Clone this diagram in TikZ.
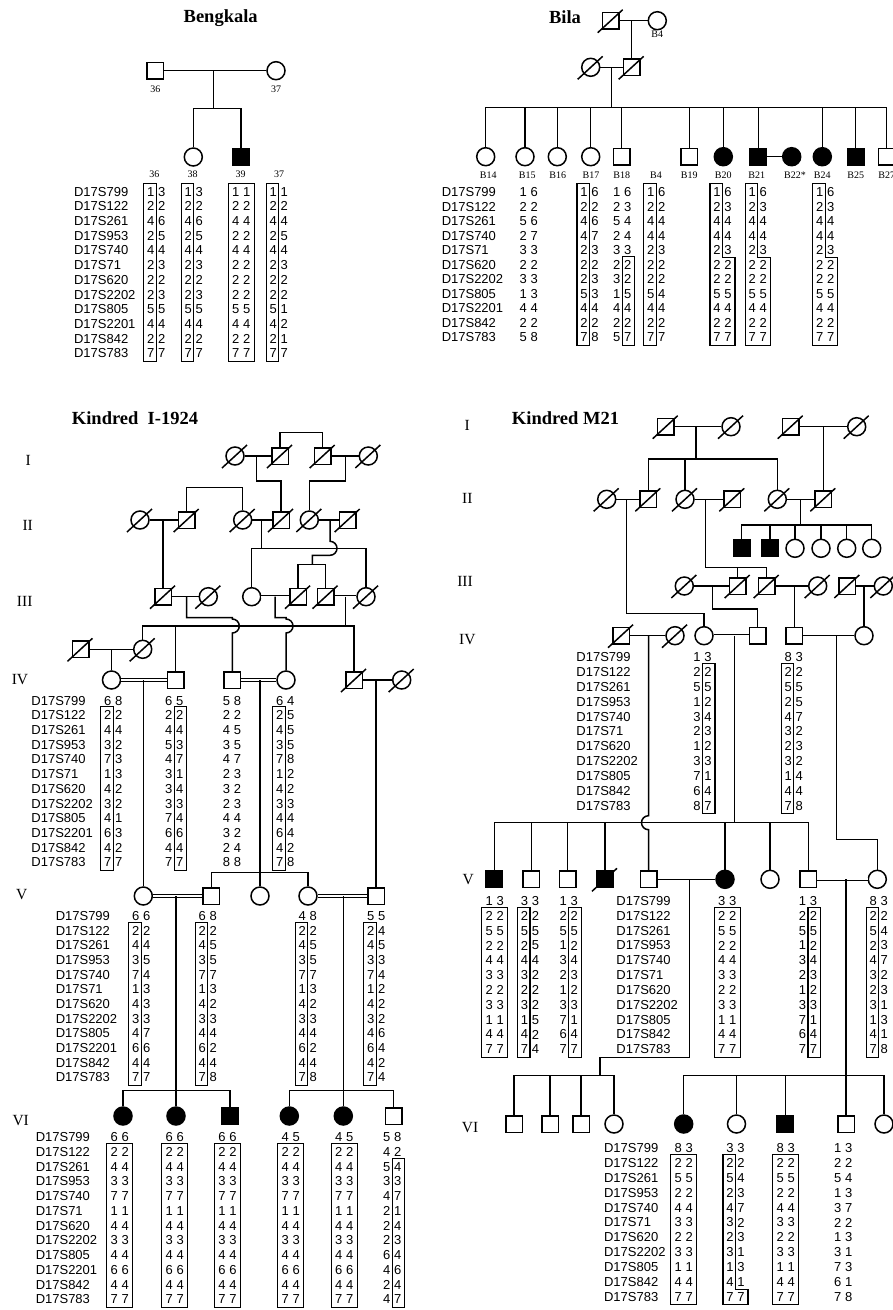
\documentclass[tikz,border=0pt]{standalone}
\usepackage{fontspec}
\setmainfont{Liberation Serif}
\setsansfont{Liberation Sans}

\newcommand{\allelefont}{\sffamily\fontsize{13}{13}\selectfont}
\newcommand{\titlefont}{\bfseries\fontsize{18.5}{18.5}\selectfont}
\newcommand{\genfont}{\fontsize{15.5}{15.5}\selectfont}
\newcommand{\idfont}{\fontsize{10}{10}\selectfont}

% marker sets
\def\mkA{D17S799,D17S122,D17S261,D17S953,D17S740,D17S71,D17S620,D17S2202,D17S805,D17S2201,D17S842,D17S783}
\def\mkB{D17S799,D17S122,D17S261,D17S740,D17S71,D17S620,D17S2202,D17S805,D17S2201,D17S842,D17S783}
\def\mkC{D17S799,D17S122,D17S261,D17S953,D17S740,D17S71,D17S620,D17S2202,D17S805,D17S842,D17S783}
\def\rowstep{14.7}

% one haplotype column: name, x, y of first row, pairs
\newcommand{\alleles}[4]{%
  \foreach \p/\q [count=\i from 0] in {#4} {
    \node[allele] (#1a\i) at ({#2-5.5},{#3+\i*\rowstep}) {\p};
    \node[allele] (#1b\i) at ({#2+5.5},{#3+\i*\rowstep}) {\q};
  }}
\newcommand{\markers}[4]{%
  \foreach \m [count=\i from 0] in #4 {
    \node[marker] (#1\i) at (#2,{#3+\i*\rowstep}) {\m};
  }}
% boxes: x, y of first row, first boxed row, last boxed row
\newcommand{\hapL}[4]{\draw[hapbox] ({#1-12.5},{#2+#3*\rowstep-8.5}) rectangle ({#1},{#2+#4*\rowstep+8});}
\newcommand{\hapR}[4]{\draw[hapbox] ({#1},{#2+#3*\rowstep-8.5}) rectangle ({#1+12.5},{#2+#4*\rowstep+8});}
\newcommand{\hapB}[4]{\draw[hapbox] ({#1-13},{#2+#3*\rowstep-8.5}) rectangle ({#1+13},{#2+#4*\rowstep+8});}
\newcommand{\hapS}[5]{\draw[hapbox] ({#1-12.5},{#2+#3*\rowstep-8.5}) -- ({#1},{#2+#3*\rowstep-8.5})
  -- ({#1},{#2+(#4-0.5)*\rowstep}) -- ({#1+12.5},{#2+(#4-0.5)*\rowstep})
  -- ({#1+12.5},{#2+#5*\rowstep+8}) -- ({#1-12.5},{#2+#5*\rowstep+8}) -- cycle;}

\begin{document}
\begin{tikzpicture}[x=1pt, y=-1pt, line width=1.5pt,
  male/.style = {draw, rectangle, minimum size=16.5pt, inner sep=0pt, fill=white},
  female/.style = {draw, circle, minimum size=18pt, inner sep=0pt, fill=white},
  ill/.style = {fill=black},
  wed/.style = {double, line width=0.9pt, double distance=1.7pt},
  allele/.style = {font=\allelefont, inner sep=0pt},
  marker/.style = {font=\allelefont, inner sep=0pt, anchor=west},
  hapbox/.style = {line width=1.1pt},
  title/.style = {font=\titlefont, inner sep=0pt},
  gen/.style = {font=\genfont, inner sep=0pt},
  idlabel/.style = {font=\idfont, inner sep=0pt},
  ]
\useasboundingbox (0,0) rectangle (893,1310);

% ---------------- Bengkala ----------------
\node[title] (tBe) at (220.7,18.3) {Bengkala};
\node[male] (b36) at (155.3,70.7) {};
\node[female] (b37) at (276,70.7) {};
\node[female] (b38) at (193.3,157) {};
\node[male, ill] (b39) at (241,157) {};
\node[idlabel] (l36) at (155.3,89) {36};
\node[idlabel] (l37) at (276,89) {37};
\coordinate (bs) at (213.3,108.3);
\draw (b36) -- (b37);
\draw (bs |- b36) -- (bs);
\draw (b38) |- (bs) -| (b39);
\foreach \t/\x [count=\k] in {36/154.3,38/192.7,39/240.7,37/279}
  \node[idlabel] (cb\k) at (\x,174.3) {\t};
\def\rowstep{14.7}
\markers{mkb}{73.3}{191.7}{\mkA}
\alleles{h36}{156.2}{191.7}{1/3,2/2,4/6,2/5,4/4,2/3,2/2,2/3,5/5,4/4,2/2,7/7}
\hapL{156.2}{191.7}{0}{11}
\alleles{h38}{193.7}{191.7}{1/3,2/2,4/6,2/5,4/4,2/3,2/2,2/3,5/5,4/4,2/2,7/7}
\hapL{193.7}{191.7}{0}{11}
\alleles{h39}{241.3}{191.7}{1/1,2/2,4/4,2/2,4/4,2/2,2/2,2/2,5/5,4/4,2/2,7/7}
\hapB{241.3}{191.7}{0}{11}
\alleles{h37}{278.7}{191.7}{1/1,2/2,4/4,2/5,4/4,2/3,2/2,2/2,5/1,4/2,2/1,7/7}
\hapL{278.7}{191.7}{0}{11}

% ---------------- Bila ----------------
\node[title] (tBi) at (565,17.3) {Bila};
\node[male] (bI1) at (610.7,20.7) {};
\node[female] (bI2) at (657.3,20.7) {};
\node[idlabel] (lB4) at (657.3,34) {B4};
\node[female] (bII1) at (590.7,67.3) {};
\node[male] (bII2) at (631.7,67.3) {};
\draw (bI1) -- (bI2);
\draw (bII2 |- bI1) -- (bII2);
\draw (bII1) -- (bII2);
\foreach \n in {bI1,bII1,bII2}
  \draw (\n.center) ++(-13,12) -- ++(25,-23);
\node[female] (b14) at (485.7,156.7) {};
\node[female] (b15) at (525,156.7) {};
\node[female] (b16) at (557.3,156.7) {};
\node[female] (b17) at (590.7,156.7) {};
\node[male] (b18) at (621.7,156.7) {};
\node[male] (b19) at (689.3,156.7) {};
\node[female, ill] (b20) at (723.3,156.7) {};
\node[male, ill] (b21) at (758.3,156.7) {};
\node[female, ill] (b22) at (791.7,156.7) {};
\node[female, ill] (b24) at (822.3,156.7) {};
\node[male, ill] (b25) at (855.7,156.7) {};
\node[male] (b27) at (886.7,156.7) {};
\coordinate (bs2) at (611.7,107.3);
\draw (bs2 |- bII1) -- (bs2);
\draw (b14 |- bs2) -- (b27 |- bs2);
\foreach \n in {b14,b15,b16,b17,b18,b19,b20,b21,b24,b25,b27}
  \draw (\n) -- (\n |- bs2);
\draw (b21) -- (b22);
\foreach \t/\x [count=\k] in {B14/488.3,B15/527.3,B16/557.7,B17/591,B18/621.7,B4/656,B19/689.3,
    B20/723.3,B21/756.7,B22*/795,B24/822.3,B25/855.7,B27/886.7}
  \node[idlabel] (cl\k) at (\x,175) {\t};
\def\rowstep{14.5}
\markers{mki}{441}{192.3}{\mkB}
\alleles{hB15}{528.7}{192.3}{1/6,2/2,5/6,2/7,3/3,2/2,3/3,1/3,4/4,2/2,5/8}
\alleles{hB17}{589.5}{192.3}{1/6,2/2,4/6,4/7,2/3,2/2,2/3,5/3,4/4,2/2,7/8}
\hapL{589.5}{192.3}{0}{10}
\alleles{hB18}{622.2}{192.3}{1/6,2/3,5/4,2/4,3/3,2/2,3/2,1/5,4/4,2/2,5/7}
\hapR{622.2}{192.3}{5}{10}
\alleles{hB4}{656.3}{192.3}{1/6,2/2,4/4,4/4,2/3,2/2,2/2,5/4,4/4,2/2,7/7}
\hapL{656.3}{192.3}{0}{10}
\foreach \n/\x in {B20/722.5,B21/757.8,B24/825.3}{
  \alleles{h\n}{\x}{192.3}{1/6,2/3,4/4,4/4,2/3,2/2,2/2,5/5,4/4,2/2,7/7}
  \hapS{\x}{192.3}{0}{5}{10}
}

% ---------------- Kindred I-1924 ----------------
\node[title] (tI) at (135,417.7) {Kindred\enspace I-1924};
\node[gen] (gI1) at (28.3,460) {I};
\node[gen] (gI2) at (27.7,525) {II};
\node[gen] (gI3) at (24.7,601) {III};
\node[gen] (gI4) at (20,679.3) {IV};
\node[gen] (gI5) at (21.7,895) {V};
\node[gen] (gI6) at (20.7,1120.7) {VI};
% generation I
\node[female] (iI1) at (235,456) {};
\node[male] (iI2) at (280,456) {};
\node[male] (iI3) at (322.7,456) {};
\node[female] (iI4) at (368.3,456) {};
% generation II
\node[female] (iII1) at (140,520) {};
\node[male] (iII2) at (186.7,520) {};
\node[female] (iII3) at (242.7,520) {};
\node[male] (iII4) at (281,520) {};
\node[female] (iII5) at (309.3,520) {};
\node[male] (iII6) at (347.7,520) {};
% generation III
\node[male] (iIII1) at (163,596.7) {};
\node[female] (iIII2) at (208.3,596.7) {};
\node[female] (iIII3) at (251.7,596.7) {};
\node[male] (iIII4) at (298,596.7) {};
\node[male] (iIII5) at (325.5,596.7) {};
\node[female] (iIII6) at (366,596.7) {};
% generation IV
\node[male] (iIV0a) at (80.5,649.3) {};
\node[female] (iIV0b) at (142.7,649.3) {};
\node[female] (iIV1) at (111.5,680) {};
\node[male] (iIV2) at (175.5,680) {};
\node[male] (iIV3) at (232.3,680) {};
\node[female] (iIV4) at (286,680) {};
\node[male] (iIV5) at (354,680) {};
\node[female] (iIV6) at (401.7,680) {};
% generation V
\node[female] (iV1) at (143.3,896) {};
\node[male] (iV2) at (211.3,896) {};
\node[female] (iV3) at (260,896) {};
\node[female] (iV4) at (308,896) {};
\node[male] (iV5) at (376,896) {};
% generation VI
\node[female, ill] (iVI1) at (123,1116) {};
\node[female, ill] (iVI2) at (176,1116) {};
\node[male, ill] (iVI3) at (230,1116) {};
\node[female, ill] (iVI4) at (289.3,1116) {};
\node[female, ill] (iVI5) at (343.3,1116) {};
\node[male] (iVI6) at (393.5,1116) {};
% lines
\coordinate (iIb) at (301,432.7);
\draw (iI2) -- (iI2 |- iIb) -- (iI3 |- iIb) -- (iI3);
\draw (iI1) -- (iI2);
\draw (iI3) -- (iI4);
\coordinate (iIa) at (256.7,481);
\draw (iIa |- iI1) -- (iIa) -| (iII4);
\coordinate (iIc) at (345.7,481);
\draw (iIc |- iI3) -- (iIc) -| (iII5);
\coordinate (iIIb) at (215,487.7);
\draw (iII2) -- (iII2 |- iIIb) -- (iII3 |- iIIb) -- (iII3);
\draw (iII1) -- (iII2);
\draw (iII3) -- (iII4);
\draw (iII5) -- (iII6);
\draw (iII1 -| iIII1) -- (iIII1);
\coordinate (iIIs) at (261.7,548.3);
\draw (iIIs |- iII3) -- (iIIs);
\draw (iIII3) |- (iIIs) -| (iIII6);
\coordinate (iIIj) at (330,541.3);
\coordinate (iIIt) at (312.3,564.3);
\draw (iIIj |- iII5) -- (iIIj) arc[start angle=-90, end angle=90, radius=7] -| (iIIt);
\draw (iIII4) |- (iIIt) -| (iIII5);
\draw (iIII1) -- (iIII2);
\draw[wed] (iIII3) -- (iIII4);
\draw[wed] (iIII5) -- (iIII6);
\coordinate (iIIIa) at (186.7,617.7);
\draw (iIIIa |- iIII1) -- (iIIIa) -- (iIIIa -| iIV3) -- ++(0,1.3)
  arc[start angle=-90, end angle=90, radius=7] -- (iIV3);
\coordinate (iIIIb) at (275,617.7);
\draw (iIIIb |- iIII3) -- (iIIIb) -- (iIIIb -| iIV4) -- ++(0,1.3)
  arc[start angle=-90, end angle=90, radius=7] -- (iIV4);
\coordinate (iIIIs) at (345.7,626);
\draw (iIIIs |- iIII5) -- (iIIIs);
\draw (iIV0b) |- (iIIIs) -| (iIV5);
\draw (iIV2) -- (iIV2 |- iIIIs);
\draw (iIV0a) -- (iIV0b);
\draw (iIV1 |- iIV0a) -- (iIV1);
\draw[wed] (iIV1) -- (iIV2);
\draw[wed] (iIV3) -- (iIV4);
\draw (iIV5) -- (iIV6);
\draw (iV1 |- iIV1) -- (iV1);
\coordinate (iIVs) at (260,872.3);
\draw (iIVs |- iIV3) -- (iV3);
\draw (iV2) |- (iIVs) -| (iV4);
\draw (iV5 |- iIV5) -- (iV5);
\draw[wed] (iV1) -- (iV2);
\draw[wed] (iV4) -- (iV5);
\coordinate (iVs1) at (176,1090.7);
\draw (iVI2 |- iV1) -- (iVI2);
\draw (iVI1) |- (iVs1) -| (iVI3);
\coordinate (iVs2) at (343.3,1090.7);
\draw (iVI5 |- iV4) -- (iVI5);
\draw (iVI4) |- (iVs2) -| (iVI6);
\foreach \n in {iI1,iI2,iI3,iI4,iII1,iII2,iII3,iII4,iII5,iII6,iIII1,iIII2,iIII4,iIII5,iIII6,iIV0a,iIV0b,iIV5,iIV6}
  \draw (\n.center) ++(-13,12) -- ++(25,-23);
% haplotypes
\def\rowstep{14.7}
\markers{mk4}{30.7}{700.7}{\mkA}
\alleles{hIV1}{113.2}{700.7}{6/8,2/2,4/4,3/2,7/3,1/3,4/2,3/2,4/1,6/3,4/2,7/7}
\hapL{113.2}{700.7}{1}{11}
\alleles{hIV2}{174.2}{700.7}{6/5,2/2,4/4,5/3,4/7,3/1,3/4,3/3,7/4,6/6,4/4,7/7}
\hapR{174.2}{700.7}{1}{11}
\alleles{hIV3}{232}{700.7}{5/8,2/2,4/5,3/5,4/7,2/3,3/2,2/3,4/4,3/2,2/4,8/8}
\alleles{hIV4}{285.3}{700.7}{6/4,2/5,4/5,3/5,7/8,1/2,4/2,3/3,4/4,6/4,4/2,7/8}
\hapL{285.3}{700.7}{1}{11}
\def\rowstep{14.66}
\markers{mk5}{55}{916}{\mkA}
\alleles{hV1}{141.3}{916}{6/6,2/2,4/4,3/5,7/4,1/3,4/3,3/3,4/7,6/6,4/4,7/7}
\hapL{141.3}{916}{1}{11}
\alleles{hV2}{207.8}{916}{6/8,2/2,4/5,3/5,7/7,1/3,4/2,3/3,4/4,6/2,4/4,7/8}
\hapL{207.8}{916}{1}{11}
\alleles{hV4}{307.8}{916}{4/8,2/2,4/5,3/5,7/7,1/3,4/2,3/3,4/4,6/2,4/4,7/8}
\hapL{307.8}{916}{1}{11}
\alleles{hV5}{376.2}{916}{5/5,2/4,4/5,3/3,7/4,1/2,4/2,3/2,4/6,6/4,4/2,7/4}
\hapL{376.2}{916}{1}{11}
\def\rowstep{14.73}
\markers{mk6}{35}{1137.3}{\mkA}
\foreach \n/\x/\f in {VI1/119.7/6,VI2/174.8/6,VI3/227.5/6,VI4/290.8/4,VI5/344.2/4}{
  \alleles{h\n}{\x}{1137.3}{\f/{\ifnum\f=6 6\else 5\fi},2/2,4/4,3/3,7/7,1/1,4/4,3/3,4/4,6/6,4/4,7/7}
  \hapB{\x}{1137.3}{1}{11}
}
\alleles{hVI6}{392.2}{1137.3}{5/8,4/2,5/4,3/3,4/7,2/1,2/4,2/3,6/4,4/6,2/4,4/7}
\hapR{392.2}{1137.3}{2}{11}

% ---------------- Kindred M21 ----------------
\node[title] (tM) at (565.5,418.3) {Kindred M21};
\node[gen] (gM1) at (467.3,425) {I};
\node[gen] (gM2) at (467.3,498.3) {II};
\node[gen] (gM3) at (465,581) {III};
\node[gen] (gM4) at (467.3,639.3) {IV};
\node[gen] (gM5) at (468.3,879.3) {V};
\node[gen] (gM6) at (470,1127.3) {VI};
% generation I
\node[male] (mI1) at (665.7,426.7) {};
\node[female] (mI2) at (731,426.7) {};
\node[male] (mI3) at (790.7,426.7) {};
\node[female] (mI4) at (856.7,426.7) {};
% generation II
\node[female] (mII1) at (606.7,499.3) {};
\node[male] (mII2) at (648.3,499.3) {};
\node[female] (mII3) at (685,499.3) {};
\node[male] (mII4) at (732.3,499.3) {};
\node[female] (mII5) at (777.3,499.3) {};
\node[male] (mII6) at (823.3,499.3) {};
\node[male, ill] (mc1) at (741.7,548.3) {};
\node[male, ill] (mc2) at (770,548.3) {};
\node[female] (mc3) at (795,548.3) {};
\node[female] (mc4) at (821,548.3) {};
\node[female] (mc5) at (846.7,548.3) {};
\node[female] (mc6) at (871.7,548.3) {};
% generation III
\node[female] (mIII1) at (684.3,586) {};
\node[male] (mIII2) at (737.7,586) {};
\node[male] (mIII3) at (766.7,586) {};
\node[female] (mIII4) at (817.7,586) {};
\node[male] (mIII5) at (847.3,586) {};
\node[female] (mIII6) at (883.3,586) {};
% generation IV
\node[male] (mIV1) at (621,635.7) {};
\node[female] (mIV2) at (675,635.7) {};
\node[female] (mIV3) at (704,635.7) {};
\node[male] (mIV4) at (757.7,635.7) {};
\node[male] (mIV5) at (794.3,635.7) {};
\node[female] (mIV6) at (864,635.7) {};
% generation V
\node[male, ill] (mV1) at (494.3,879.3) {};
\node[male] (mV2) at (531.3,879.3) {};
\node[male] (mV3) at (567.7,879.3) {};
\node[male, ill] (mV4) at (605,879.3) {};
\node[male] (mV5) at (648.5,879.3) {};
\node[female, ill] (mV6) at (725,879.3) {};
\node[female] (mV7) at (770,879.3) {};
\node[male] (mV8) at (808.3,879.3) {};
\node[female] (mV9) at (877.3,879.3) {};
% generation VI
\node[male] (mVI1) at (514,1124) {};
\node[male] (mVI2) at (550,1124) {};
\node[male] (mVI3) at (581,1124) {};
\node[female] (mVI4) at (614,1124) {};
\node[female, ill] (mVI5) at (683.7,1124) {};
\node[female] (mVI6) at (736.5,1124) {};
\node[male, ill] (mVI7) at (785.3,1124) {};
\node[male] (mVI8) at (846,1124) {};
\node[female] (mVI9) at (884,1124) {};
% lines
\draw (mI1) -- (mI2);
\draw (mI3) -- (mI4);
\coordinate (mIs) at (696,459);
\draw (mIs |- mI1) -- (mIs);
\draw (mII2) |- (mIs) -| (mII5);
\draw (mII3) -- (mII3 |- mIs);
\draw (mII6 |- mI3) -- (mII6);
\draw (mII1) -- (mII2);
\draw (mII3) -- (mII4);
\draw (mII5) -- (mII6);
\coordinate (mIIa) at (626.7,613.3);
\draw (mIIa |- mII1) -- (mIIa) -| (mIV3);
\coordinate (mIIb) at (705.7,567.7);
\draw (mIIb |- mII3) -- (mIIb) -| (mIII3);
\draw (mIII2) -- (mIII2 |- mIIb);
\coordinate (mIIc) at (800.7,525);
\draw (mIIc |- mII5) -- (mIIc);
\draw (mc1) |- (mIIc) -| (mc6);
\foreach \n in {mc2,mc3,mc4,mc5}
  \draw (\n) -- (\n |- mIIc);
\draw (mIII1) -- (mIII2);
\draw (mIII3) -- (mIII4);
\draw (mIII5) -- (mIII6);
\coordinate (mIIIa) at (712.7,609);
\draw (mIIIa |- mIII1) -- (mIIIa) -| (mIV4);
\draw (mIV5 |- mIII3) -- (mIV5);
\draw (mIV6 |- mIII5) -- (mIV6);
\draw (mIV1) -- (mIV2);
\draw[wed] (mIV3) -- (mIV4);
\draw (mIV5) -- (mIV6);
\coordinate (mIVj) at (648.5,815.7);
\draw (mIVj |- mIV1) -- (mIVj) arc[start angle=270, end angle=90, radius=7] -- (mV5);
\coordinate (mIVs) at (734.3,822.7);
\draw (mIVs |- mIV3) -- (mIVs);
\draw (mV1) |- (mIVs) -| (mV8);
\foreach \n in {mV2,mV3,mV4,mV6,mV7}
  \draw (\n) -- (\n |- mIVs);
\coordinate (mIVb) at (836.7,839.3);
\draw (mIVb |- mIV5) -- (mIVb) -| (mV9);
\draw (mV5) -- (mV6);
\draw[wed] (mV8) -- (mV9);
\coordinate (mVa) at (689.3,1057.3);
\coordinate (mVs) at (600,1075.7);
\draw (mVa |- mV5) -- (mVa) -| (mVs);
\draw (mVI1) |- (mVs) -| (mVI4);
\foreach \n in {mVI2,mVI3}
  \draw (\n) -- (\n |- mVs);
\coordinate (mVb) at (846,1075.7);
\draw (mVb |- mV8) -- (mVI8);
\draw (mVI5) |- (mVb) -| (mVI9);
\foreach \n in {mVI6,mVI7}
  \draw (\n) -- (\n |- mVb);
\foreach \n in {mI1,mI2,mI3,mI4,mII1,mII2,mII3,mII4,mII5,mII6,mIII1,mIII2,mIII3,mIII4,mIII5,mIII6,mIV1,mIV2,mV4}
  \draw (\n.center) ++(-13,12) -- ++(25,-23);
% haplotypes
\def\rowstep{14.83}
\markers{mkm4}{575.7}{657.3}{\mkC}
\alleles{mhIV3}{702.5}{657.3}{1/3,2/2,5/5,1/2,3/4,2/3,1/2,3/3,7/1,6/4,8/7}
\hapR{702.5}{657.3}{1}{10}
\alleles{mhIV5}{793.8}{657.3}{8/3,2/2,5/5,2/5,4/7,3/2,2/3,3/2,1/4,4/4,7/8}
\hapL{793.8}{657.3}{1}{10}
\markers{mkm5}{615.7}{901}{\mkC}
\alleles{mhV1}{494.7}{901}{1/3,2/2,5/5,2/2,4/4,3/3,2/2,3/3,1/1,4/4,7/7}
\hapB{494.7}{901}{1}{10}
\alleles{mhV2}{530}{901}{3/3,2/2,5/5,2/5,4/4,3/2,2/2,3/2,1/5,4/2,7/4}
\hapL{530}{901}{1}{10}
\alleles{mhV3}{568.8}{901}{1/3,2/2,5/5,1/2,3/4,2/3,1/2,3/3,7/1,6/4,7/7}
\hapR{568.8}{901}{1}{10}
\alleles{mhV6}{727.2}{901}{3/3,2/2,5/5,2/2,4/4,3/3,2/2,3/3,1/1,4/4,7/7}
\hapB{727.2}{901}{1}{10}
\alleles{mhV8}{808}{901}{1/3,2/2,5/5,1/2,3/4,2/3,1/2,3/3,7/1,6/4,7/7}
\hapR{808}{901}{1}{10}
\alleles{mhV9}{878.8}{901}{8/3,2/2,5/4,2/3,4/7,3/2,2/3,3/1,1/3,4/1,7/8}
\hapL{878.8}{901}{1}{10}
\markers{mkm6}{603.3}{1148.3}{\mkC}
\alleles{mhVI5}{683.8}{1148.3}{8/3,2/2,5/5,2/2,4/4,3/3,2/2,3/3,1/1,4/4,7/7}
\hapB{683.8}{1148.3}{1}{10}
\alleles{mhVI6}{735.5}{1148.3}{3/3,2/2,5/4,2/3,4/7,3/2,2/3,3/1,1/3,4/1,7/7}
\hapS{735.5}{1148.3}{1}{10}{10}
\alleles{mhVI7}{785.8}{1148.3}{8/3,2/2,5/5,2/2,4/4,3/3,2/2,3/3,1/1,4/4,7/7}
\hapB{785.8}{1148.3}{1}{10}
\alleles{mhVI8}{843.3}{1148.3}{1/3,2/2,5/4,1/3,3/7,2/2,1/3,3/1,7/3,6/1,7/8}
\end{tikzpicture}
\end{document}
